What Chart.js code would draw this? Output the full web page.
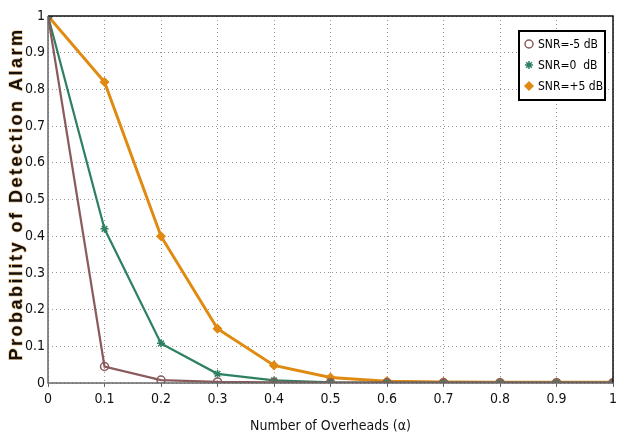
<!DOCTYPE html>
<html><head><meta charset="utf-8">
<script src="https://cdn.jsdelivr.net/npm/chart.js@4/dist/chart.umd.min.js"></script>
<style>html,body{margin:0;padding:0;background:#fff}#w{width:628px;height:439px}</style>
</head><body><div id="w"><canvas id="c" width="628" height="439"></canvas></div>
<script>
const overheads = [0,0.1,0.2,0.3,0.4,0.5,0.6,0.7,0.8,0.9,1];
const snrMinus5 = [1,0.045,0.008,0.003,0.002,0.001,0.001,0.001,0.001,0.001,0.001];
const snr0 = [1,0.42,0.108,0.025,0.007,0.002,0.001,0.001,0.001,0.001,0.001];
const snrPlus5 = [1,0.82,0.40,0.148,0.048,0.015,0.005,0.003,0.002,0.002,0.002];
const seriesLabels = ['SNR=-5 dB','SNR=0  dB','SNR=+5 dB'];
const yTicks = [0,0.1,0.2,0.3,0.4,0.5,0.6,0.7,0.8,0.9,1];
const xTitle = 'Number of Overheads (α)';
const yTitle = 'Probability of Detection Alarm';

const colors = ['#8a5a5c','#2e8060','#e08a12'];
const styles = ['circle','star','rectRot'];
const FONT = '"DejaVu Sans Condensed","Liberation Sans",Arial,sans-serif';

const fmt = v => (v===0?'0':v===1?'1':(+v).toFixed(1));

const legendPlugin = {
  id:'boxLegend',
  afterDraw(chart){
    const ctx = chart.ctx;
    const x=519,y=31,w=86,h=69;
    ctx.save();
    ctx.fillStyle='#fff';ctx.fillRect(x,y,w,h);
    ctx.strokeStyle='#000';ctx.lineWidth=2;ctx.strokeRect(x,y,w,h);
    ctx.font='12px '+FONT;ctx.textBaseline='middle';
    chart.data.datasets.forEach((ds,i)=>{
      const ly=y+13+i*21;
      ctx.strokeStyle=ds.borderColor;ctx.fillStyle=i===0?'#fff':ds.borderColor;ctx.lineWidth=1.5;
      Chart.helpers.drawPoint(ctx,{pointStyle:ds.pointStyle,radius:4,borderWidth:1.5},x+10,ly);
      ctx.fillStyle='#000';
      ctx.fillText(ds.label,x+19,ly+1);
    });
    // y title
    ctx.translate(17,194);ctx.rotate(-Math.PI/2);
    ctx.font='bold 18px "Liberation Sans",Arial,sans-serif';
    ctx.letterSpacing='2.5px';
    ctx.textAlign='center';ctx.textBaseline='middle';
    ctx.lineWidth=1.5;ctx.strokeStyle='rgba(230,140,30,0.45)';ctx.lineJoin='round';
    ctx.strokeText(yTitle,0,0);
    ctx.fillStyle='#111';ctx.fillText(yTitle,0,0);
    ctx.restore();
  }
};
const framePlugin = {
  id:'frame',
  afterDatasetsDraw(chart){
    const a=chart.chartArea,ctx=chart.ctx;
    ctx.save();
    ctx.strokeStyle='#111';ctx.lineWidth=1.5;
    ctx.beginPath();ctx.moveTo(a.left,a.top);ctx.lineTo(a.right,a.top);ctx.lineTo(a.right,a.bottom);ctx.stroke();
    ctx.strokeStyle='#666';
    ctx.beginPath();ctx.moveTo(a.left,a.top);ctx.lineTo(a.left,a.bottom);ctx.lineTo(a.right,a.bottom);ctx.stroke();
    ctx.restore();
  }
};

const data = [snrMinus5,snr0,snrPlus5];
new Chart(document.getElementById('c'),{
  type:'line',
  data:{datasets:data.map((d,i)=>({
    label:seriesLabels[i],
    data:overheads.map((x,j)=>({x:x,y:d[j]})),
    borderColor:colors[i],backgroundColor:i===0?'rgba(255,255,255,0)':colors[i],
    borderWidth:i===2?3:2.2,pointStyle:styles[i],pointRadius:4,pointBorderWidth:1.5,
    tension:0
  }))},
  options:{
    responsive:false,animation:false,
    layout:{padding:{top:16,right:15,left:0,bottom:0}},
    plugins:{legend:{display:false},tooltip:{enabled:false}},
    scales:{
      x:{type:'linear',min:0,max:1,
        afterFit(s){s.height=56;},
        afterBuildTicks(s){s.ticks=overheads.map(v=>({value:v}));},
        ticks:{callback:fmt,color:'#111',font:{family:FONT,size:14},padding:4,maxRotation:0},
        grid:{color:'#999',lineWidth:1,tickLength:4,tickColor:'#666'},
        border:{display:false,dash:[1,3]},
        title:{display:true,text:xTitle,color:'#111',font:{family:FONT,size:14},padding:{top:4}}
      },
      y:{min:0,max:1,
        afterFit(s){s.width=48;},
        afterBuildTicks(s){s.ticks=yTicks.map(v=>({value:v}));},
        ticks:{callback:fmt,color:'#111',font:{family:FONT,size:14},padding:3},
        grid:{color:'#999',lineWidth:1,tickLength:0},
        border:{display:false,dash:[1,3]},
        title:{display:false}
      }
    }
  },
  plugins:[framePlugin,legendPlugin]
});
</script></body></html>
